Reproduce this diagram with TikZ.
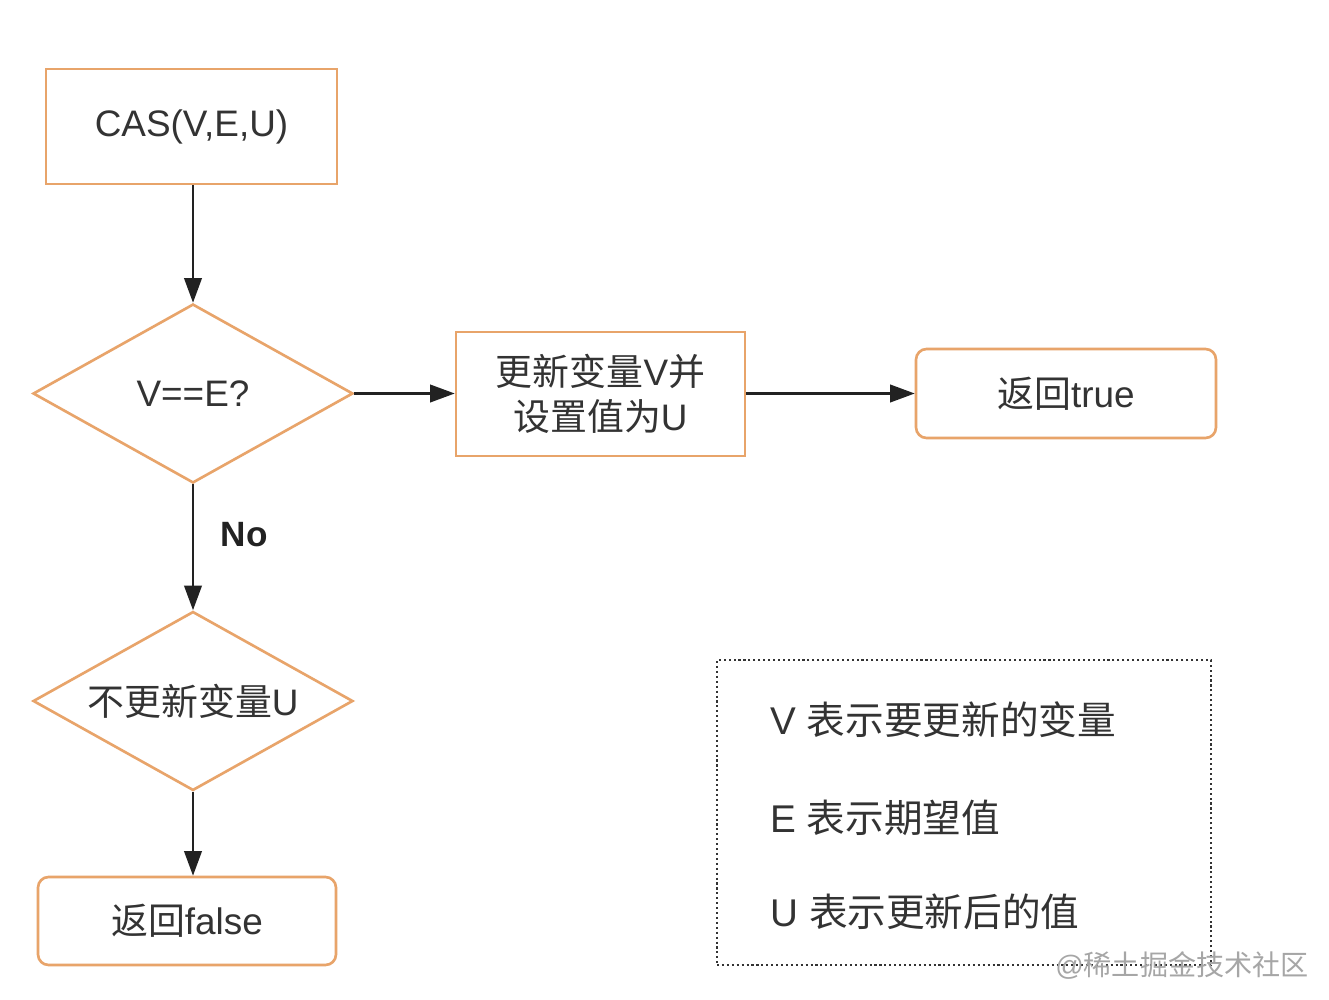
\documentclass[tikz,border=0pt]{standalone}
\usepackage{fontspec}
\setmainfont{Liberation Sans}
\newfontfamily\cjk{Noto Sans CJK SC}
\usetikzlibrary{shapes.geometric,arrows.meta}
\definecolor{obord}{RGB}{232,164,106}
\definecolor{txt}{RGB}{51,51,51}
\definecolor{arrc}{RGB}{34,34,34}
\tikzset{
  base/.style={draw=obord,line width=1.5pt,text=txt,font=\fontsize{21}{26}\selectfont,align=center,fill=white},
  sqbox/.style={base,rectangle,inner sep=0pt},
  rbox/.style={base,rectangle,rounded corners=6pt,inner sep=0pt},
  dec/.style={base,diamond,inner sep=0pt,minimum width=6.4cm,minimum height=3.58cm},
  dectext/.style={text=txt,font=\fontsize{21}{26}\selectfont,inner sep=0pt},
  arr/.style={draw=arrc,line width=1.2pt,-{Triangle[length=14pt,width=10pt]}},
  lbl/.style={text=arrc,font=\fontsize{20}{24}\selectfont\bfseries},
  legendbox/.style={draw=txt,line width=1.2pt,dash pattern=on 1.2pt off 1.6pt,rectangle,inner sep=0pt},
  legtext/.style={text=txt,font=\fontsize{22}{27}\selectfont,anchor=west,inner sep=0pt},
  wm/.style={text=black!35,font=\fontsize{16}{20}\selectfont,inner sep=0pt}
}
\begin{document}
\begin{tikzpicture}[x=0.02cm,y=-0.02cm]
\useasboundingbox[fill=white] (0,0) rectangle (1329,1000);
\node[sqbox,minimum width=5.82cm,minimum height=2.3cm] (cas) at (191.5,126.5) {CAS(V,E,U)};
\node[dec] (d1) at (193,393.5) {};
\node[dectext] (d1t) at (d1.center) {V==E?};
\node[sqbox,minimum width=5.78cm,minimum height=2.48cm] (upd) at (600.5,394) {{\cjk 更新变量}V{\cjk 并}\\{\cjk 设置值为}U};
\node[rbox,minimum width=6.0cm,minimum height=1.78cm] (tr) at (1066,393.5) {{\cjk 返回}true};
\node[dec] (d2) at (193,701) {};
\node[dectext] (d2t) at (d2.center) {{\cjk 不更新变量}U};
\node[rbox,minimum width=5.96cm,minimum height=1.76cm] (fa) at (187,921) {{\cjk 返回}false};
\draw[arr] (cas.south -| d1.north) -- (d1.north);
\draw[arr] (d1.east) -- (upd.west |- d1.east);
\draw[arr] (upd.east |- tr.west) -- (tr.west);
\draw[arr] (d1.south) -- node[lbl,right=12pt,pos=0.4] (no) {No} (d2.north);
\draw[arr] (d2.south) -- (fa.north -| d2.south);
\node[legendbox,minimum width=9.88cm,minimum height=6.1cm] (leg) at (964,812.5) {};
\node[legtext] (l1) at (770,720) {V {\cjk 表示要更新的变量}};
\node[legtext] (l2) at (770,818) {E {\cjk 表示期望值}};
\node[legtext] (l3) at (770,912) {U {\cjk 表示更新后的值}};
\node[wm] (wmk) at (1182,966) {@{\cjk 稀土掘金技术社区}};
\end{tikzpicture}
\end{document}
